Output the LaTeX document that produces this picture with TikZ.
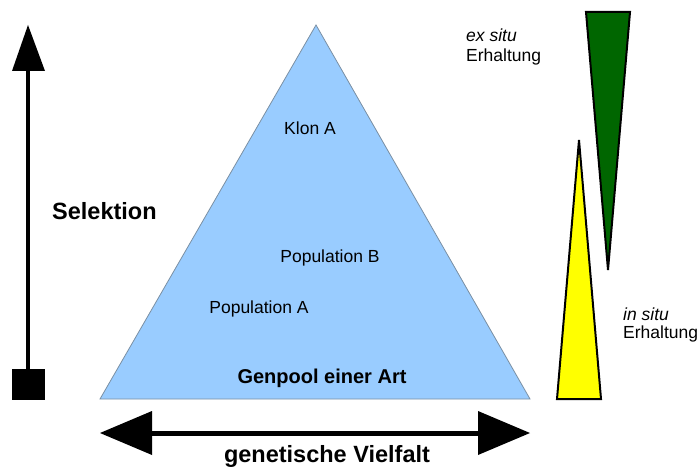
\documentclass[tikz,border=0pt]{standalone}
\usepackage{fontspec}
\setmainfont{Liberation Sans}
\begin{document}
\begin{tikzpicture}[x=1pt,y=-1pt,
  lbl/.style={font=\fontsize{17.5}{19}\selectfont, inner sep=0pt},
  blbl/.style={font=\fontsize{23.5}{25}\selectfont\bfseries, inner sep=0pt},
  pyr/.style={fill=pyrblue, draw=pyredge, line width=0.8pt},
  cone/.style={draw=black, line width=2pt, line join=miter}]
\definecolor{pyrblue}{HTML}{99CCFF}
\definecolor{pyredge}{HTML}{7A8FA3}
\definecolor{exgreen}{HTML}{006600}
\definecolor{inyellow}{HTML}{FFFF00}
\useasboundingbox (0,0) rectangle (698,468);
% main pyramid
\coordinate (apex) at (316,25);
\coordinate (bl) at (100,399);
\coordinate (br) at (530,399);
\draw[pyr] (apex) -- (bl) -- (br) -- cycle;
\node[lbl] (klon) at (310,128) {Klon A};
\node[lbl] (popB) at (330,258) {Population B};
\node[lbl] (popA) at (259,309) {Population A};
\node[blbl, font=\fontsize{20}{22}\selectfont\bfseries] (genpool) at (322,378) {Genpool einer Art};
% selection arrow
\coordinate (selTip) at (28,25);
\coordinate (selBase) at (28,385);
\draw[line width=4pt] (28,66) -- (selBase);
\fill (selTip) -- (45,71) -- (12,71) -- cycle;
\fill (12,369) rectangle (45,400);
\node[blbl, anchor=west] (sel) at (52,211) {Selektion};
% diversity arrow
\coordinate (divL) at (100,433);
\coordinate (divR) at (530,433);
\draw[line width=5pt] (150,433) -- (480,433);
\fill (divL) -- (152,411) -- (152,455) -- cycle;
\fill (divR) -- (478,411) -- (478,455) -- cycle;
\node[blbl] (div) at (327,456) {genetische Vielfalt};
% ex situ cone
\draw[cone, fill=exgreen] (586,12) -- (630,12) -- (608,270) -- cycle;
\node[lbl, anchor=west, align=left, font=\fontsize{17.5}{20}\selectfont] (exsitu) at (466,47) {\textit{ex situ}\\Erhaltung};
% in situ cone
\draw[cone, fill=inyellow] (579,140) -- (601,399) -- (557,399) -- cycle;
\node[lbl, anchor=west, align=left, font=\fontsize{17.5}{18}\selectfont] (insitu) at (623,325) {\textit{in situ}\\Erhaltung};
\end{tikzpicture}
\end{document}
